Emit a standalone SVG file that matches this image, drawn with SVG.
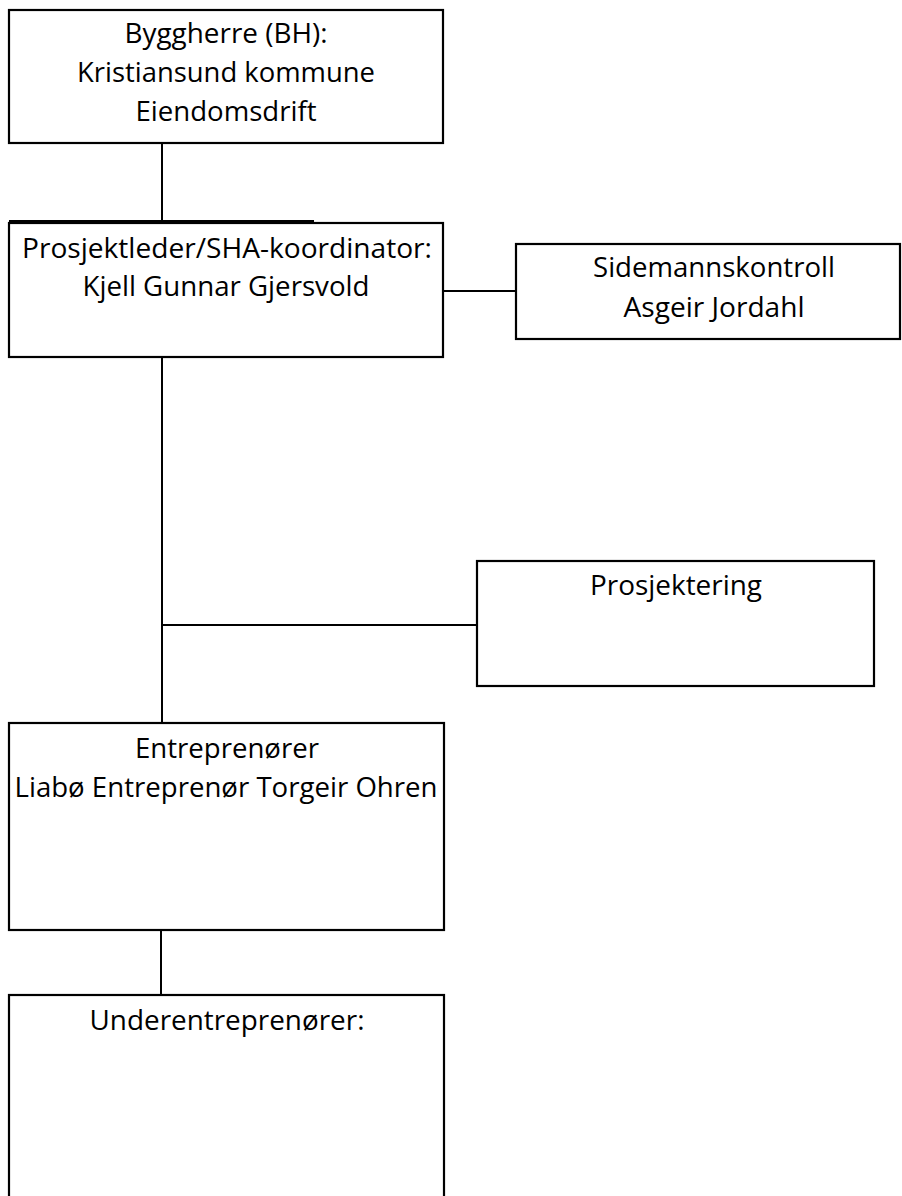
<svg xmlns="http://www.w3.org/2000/svg" width="902" height="1196" viewBox="0 0 902 1196">
<style>
.box{fill:#fff;stroke:#000;stroke-width:2.2}
.ln{stroke:#000;stroke-width:2;fill:none}
text{font-family:"Open Sans","Noto Sans",sans-serif;font-size:27px;fill:#000;text-anchor:middle}
</style>
<rect width="902" height="1196" fill="#fff"/>
<g id="connectors">
<line class="ln" x1="162" y1="143" x2="162" y2="222"/>
<line class="ln" x1="9" y1="221" x2="314" y2="221"/>
<line class="ln" x1="443" y1="291" x2="516" y2="291"/>
<line class="ln" x1="162" y1="357" x2="162" y2="723"/>
<line class="ln" x1="162" y1="625" x2="477" y2="625"/>
<line class="ln" x1="161" y1="930" x2="161" y2="995"/>
</g>
<g id="byggherre">
<rect class="box" x="9" y="10" width="434" height="133"/>
<text x="226" y="43" textLength="203" lengthAdjust="spacingAndGlyphs">Byggherre (BH):</text>
<text x="226" y="82" textLength="298" lengthAdjust="spacingAndGlyphs">Kristiansund kommune</text>
<text x="226" y="121" textLength="181" lengthAdjust="spacingAndGlyphs">Eiendomsdrift</text>
</g>
<g id="prosjektleder">
<rect class="box" x="9" y="223" width="434" height="134"/>
<text x="227" y="258" textLength="410" lengthAdjust="spacingAndGlyphs">Prosjektleder/SHA-koordinator:</text>
<text x="226" y="296" textLength="287" lengthAdjust="spacingAndGlyphs">Kjell Gunnar Gjersvold</text>
</g>
<g id="sidemannskontroll">
<rect class="box" x="516" y="244" width="384" height="95"/>
<text x="714" y="277" textLength="242" lengthAdjust="spacingAndGlyphs">Sidemannskontroll</text>
<text x="714" y="317" textLength="181" lengthAdjust="spacingAndGlyphs">Asgeir Jordahl</text>
</g>
<g id="prosjektering">
<rect class="box" x="477" y="561" width="397" height="125"/>
<text x="676" y="595" textLength="172" lengthAdjust="spacingAndGlyphs">Prosjektering</text>
</g>
<g id="entreprenorer">
<rect class="box" x="9" y="723" width="435" height="207"/>
<text x="227" y="758" textLength="184" lengthAdjust="spacingAndGlyphs">Entreprenører</text>
<text x="226" y="797" textLength="423" lengthAdjust="spacingAndGlyphs">Liabø Entreprenør Torgeir Ohren</text>
</g>
<g id="underentreprenorer">
<rect class="box" x="9" y="995" width="435" height="220"/>
<text x="227" y="1030" textLength="275" lengthAdjust="spacingAndGlyphs">Underentreprenører:</text>
</g>
</svg>
